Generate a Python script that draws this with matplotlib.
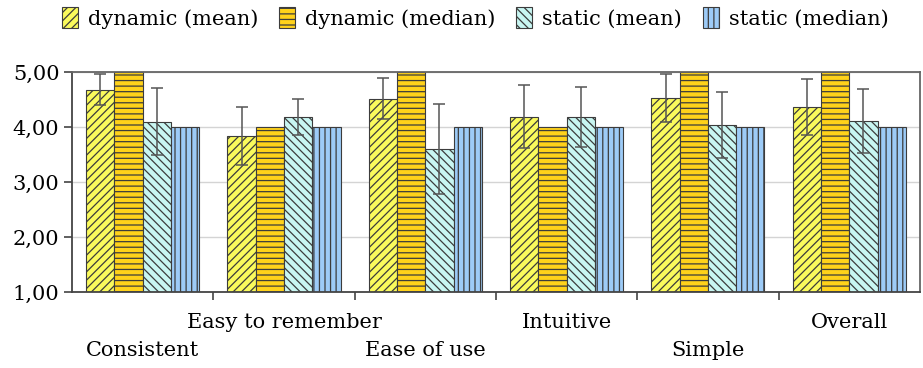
import matplotlib
matplotlib.use("Agg")
import matplotlib.pyplot as plt
import numpy as np

plt.rcParams["font.family"] = ["DejaVu Serif"]
plt.rcParams["hatch.linewidth"] = 0.9

categories = ["Consistent", "Easy to remember", "Ease of use", "Intuitive", "Simple", "Overall"]
series = ["dynamic (mean)", "dynamic (median)", "static (mean)", "static (median)"]

dyn_mean = [4.68, 3.84, 4.52, 4.19, 4.53, 4.36]
dyn_mean_err = [0.28, 0.53, 0.38, 0.57, 0.44, 0.51]
dyn_median = [5.00, 4.00, 5.00, 4.00, 5.00, 5.00]
stat_mean = [4.10, 4.18, 3.60, 4.18, 4.03, 4.11]
stat_mean_err = [0.61, 0.33, 0.82, 0.55, 0.60, 0.58]
stat_median = [4.00, 4.00, 4.00, 4.00, 4.00, 4.00]

values = [dyn_mean, dyn_median, stat_mean, stat_median]
errors = [dyn_mean_err, None, stat_mean_err, None]
colors = ["#FAFA5C", "#FFD21A", "#C8F6F2", "#9DCBF7"]
hatches = ["////", "---", "\\\\\\\\", "|||"]

fig = plt.figure(figsize=(9.23, 3.68), dpi=100)
ax = fig.add_axes([0.078, 0.2065, 0.9187, 0.5975])

x = np.arange(len(categories))
w = 0.2
for i, (vals, err) in enumerate(zip(values, errors)):
    pos = x + (i - 1.5) * w
    ax.bar(pos, np.array(vals) - 1, w, bottom=1, color=colors[i], hatch=hatches[i],
           edgecolor="#3c3c3c", linewidth=0.8, label=series[i], zorder=2)
    if err is not None:
        ax.errorbar(pos, vals, yerr=err, fmt="none", ecolor="#555555",
                    elinewidth=1.1, capsize=4.3, capthick=1.1, zorder=3)

ax.set_xlim(-0.5, len(categories) - 0.5)
ax.set_ylim(1, 5)
ax.set_yticks([1, 2, 3, 4, 5])
ax.set_yticklabels(["1,00", "2,00", "3,00", "4,00", "5,00"], fontsize=15)
ax.yaxis.grid(True, color="#d4d4d4", linewidth=1.0, zorder=0)
ax.set_axisbelow(True)

# alternate labels between two rows
labels = [("\n" + c) if i % 2 == 0 else c for i, c in enumerate(categories)]
ax.set_xticks(x)
ax.set_xticklabels(labels, fontsize=15, linespacing=1.6)
ax.tick_params(axis="x", which="major", length=0, pad=15)
ax.set_xticks(np.arange(0.5, len(categories) - 0.5), minor=True)
ax.tick_params(axis="x", which="minor", length=6, width=1.2, color="#444444")
ax.tick_params(axis="y", length=6, width=1.2, color="#444444", pad=3)

for s in ["left", "bottom"]:
    ax.spines[s].set_color("#444444")
    ax.spines[s].set_linewidth(1.3)
for s in ["top", "right"]:
    ax.spines[s].set_color("#666666")
    ax.spines[s].set_linewidth(1.3)

fig.legend(loc="upper center", bbox_to_anchor=(0.515, 1.02), ncol=4, frameon=False,
           fontsize=15, handlelength=0.75, handleheight=1.15, handletextpad=0.5,
           columnspacing=1.0, borderaxespad=0.3)

fig.savefig("out.png", dpi=100)
